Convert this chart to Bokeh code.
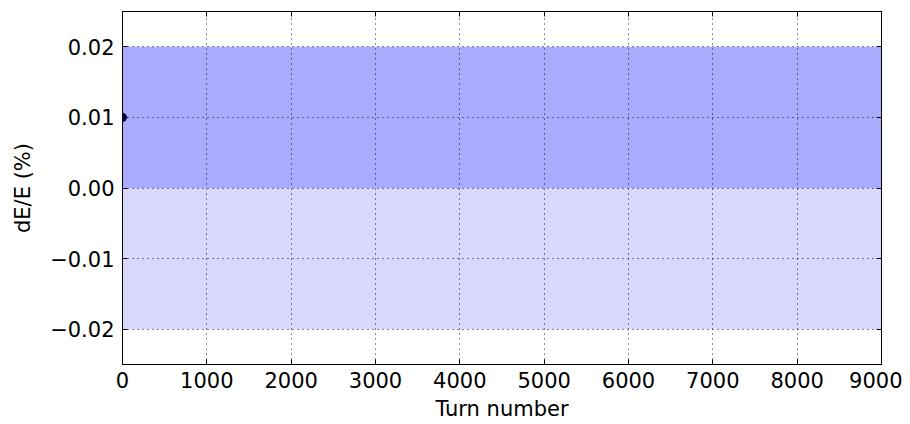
from bokeh.plotting import figure
from bokeh.models import FixedTicker, LinearAxis, CustomJSTickFormatter, Range1d
from bokeh.embed import file_html
from bokeh.resources import INLINE

# ---- data ----
band_turns = [0, 9000]
upper_band_top = [0.02, 0.02]
upper_band_bottom = [0.0, 0.0]
lower_band_top = [0.0, 0.0]
lower_band_bottom = [-0.02, -0.02]
point_turn = [0]
point_dE = [0.01]
x_ticks = [0, 1000, 2000, 3000, 4000, 5000, 6000, 7000, 8000, 9000]
y_ticks = [-0.02, -0.01, 0.0, 0.01, 0.02]

FONT = "DejaVu Sans"
FS = "21px"

p = figure(width=902, height=424, output_backend="svg", toolbar_location=None,
           x_range=Range1d(0, 9000), y_range=Range1d(-0.025, 0.025),
           min_border_left=122, min_border_right=21, min_border_top=11, min_border_bottom=60,
           x_axis_label="Turn number", y_axis_label="dE/E (%)")

p.varea(x=band_turns, y1=upper_band_bottom, y2=upper_band_top, fill_color="#aaaaff", fill_alpha=1.0)
p.varea(x=band_turns, y1=lower_band_bottom, y2=lower_band_top, fill_color="#d8d8ff", fill_alpha=1.0)
p.scatter(x=point_turn, y=point_dE, size=8, fill_color="#000080", line_color="black", line_width=1)

p.outline_line_color = "black"
p.outline_line_width = 1
p.background_fill_color = "white"
p.border_fill_color = "white"

for g in (p.xgrid[0], p.ygrid[0]):
    g.grid_line_color = "black"
    g.grid_line_dash = "1 4"
    g.grid_line_width = 1
    g.grid_line_alpha = 0.9
    g.level = "overlay"
p.xgrid[0].ticker = FixedTicker(ticks=x_ticks)
p.ygrid[0].ticker = FixedTicker(ticks=y_ticks)

yfmt = CustomJSTickFormatter(code="""
if (Math.abs(tick) < 1e-12) return '0.00';
return (tick < 0 ? '\u2212' : '') + Math.abs(tick).toFixed(2);
""")

def style(ax, labels=True):
    ax.axis_line_color = "black"
    ax.axis_line_width = 1
    ax.major_tick_in = 5
    ax.major_tick_out = 0
    ax.minor_tick_in = 0
    ax.minor_tick_out = 0
    ax.major_tick_line_color = "black"
    ax.major_label_text_font = FONT
    ax.major_label_text_color = "black"
    if labels:
        ax.major_label_text_font_size = FS
    else:
        ax.major_label_text_font_size = "0px"
        ax.major_label_standoff = 0
    ax.axis_label_text_font = FONT
    ax.axis_label_text_font_size = FS
    ax.axis_label_text_font_style = "normal"
    ax.axis_label_text_color = "black"

xa = p.xaxis[0]
xa.ticker = FixedTicker(ticks=x_ticks)
style(xa)
xa.major_label_standoff = 7
xa.axis_label_standoff = 6

ya = p.yaxis[0]
ya.ticker = FixedTicker(ticks=y_ticks)
ya.formatter = yfmt
style(ya)
ya.major_label_standoff = 8
ya.axis_label_standoff = 12

top = LinearAxis(ticker=FixedTicker(ticks=x_ticks))
style(top, labels=False)
p.add_layout(top, "above")
right = LinearAxis(ticker=FixedTicker(ticks=y_ticks))
style(right, labels=False)
p.add_layout(right, "right")

open("out.html", "w").write(file_html(p, INLINE))
